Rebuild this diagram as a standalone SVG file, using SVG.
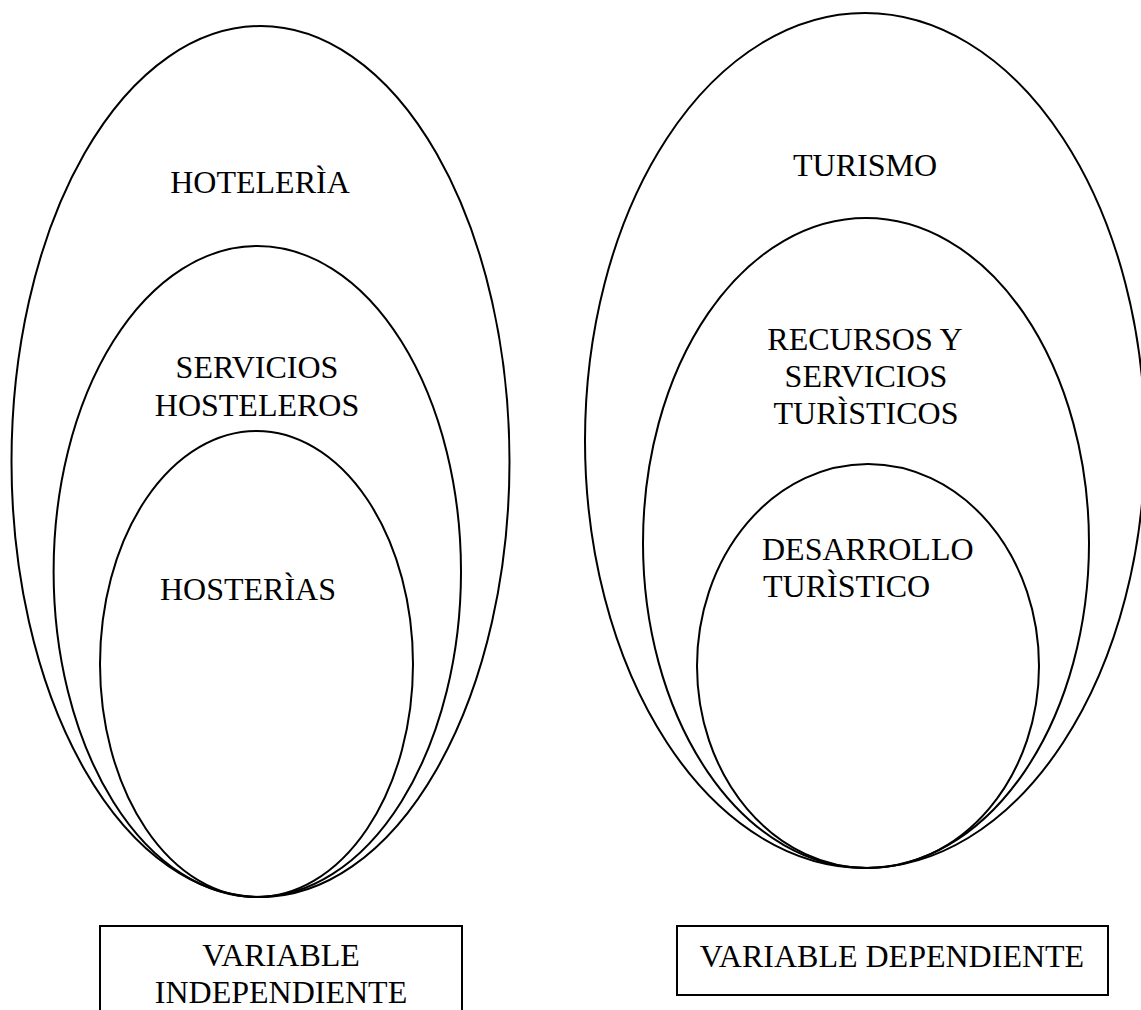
<svg xmlns="http://www.w3.org/2000/svg" width="1141" height="1010" viewBox="0 0 1141 1010">
<style>
.e{fill:none;stroke:#000;stroke-width:2}
.b{fill:#fff;stroke:#000;stroke-width:2}
.t{font-family:"Liberation Serif","Times New Roman",serif;font-size:32px;fill:#000}
.c{text-anchor:middle}
</style>
<rect width="1141" height="1010" fill="#fff"/>
<g id="hoteleria">
<ellipse class="e" cx="260.5" cy="461.5" rx="249" ry="435.5"/>
<text class="t c" x="260" y="193">HOTELERÌA</text>
</g>
<g id="servicios-hosteleros">
<ellipse class="e" cx="257.3" cy="571.5" rx="203.7" ry="325.5"/>
<text class="t c" x="257" y="378">SERVICIOS</text>
<text class="t c" x="257" y="416">HOSTELEROS</text>
</g>
<g id="hosterias">
<ellipse class="e" cx="256.5" cy="664" rx="156.5" ry="233"/>
<text class="t" x="160" y="600">HOSTERÌAS</text>
</g>
<g id="turismo">
<ellipse class="e" cx="865" cy="440.5" rx="280" ry="427.5"/>
<text class="t c" x="865" y="176">TURISMO</text>
</g>
<g id="recursos">
<ellipse class="e" cx="866" cy="543" rx="223" ry="325"/>
<text class="t c" x="865" y="350">RECURSOS Y</text>
<text class="t c" x="866" y="387">SERVICIOS</text>
<text class="t c" x="866" y="424">TURÌSTICOS</text>
</g>
<g id="desarrollo">
<ellipse class="e" cx="868" cy="666" rx="171" ry="202"/>
<text class="t" x="762" y="560">DESARROLLO</text>
<text class="t" x="763" y="597">TURÌSTICO</text>
</g>
<g id="var-independiente">
<rect class="b" x="100" y="926" width="362" height="100"/>
<text class="t c" x="281" y="966">VARIABLE</text>
<text class="t c" x="281" y="1003">INDEPENDIENTE</text>
</g>
<g id="var-dependiente">
<rect class="b" x="677" y="926" width="431" height="69"/>
<text class="t c" x="892" y="967">VARIABLE DEPENDIENTE</text>
</g>
<g id="connectors"></g>
</svg>
